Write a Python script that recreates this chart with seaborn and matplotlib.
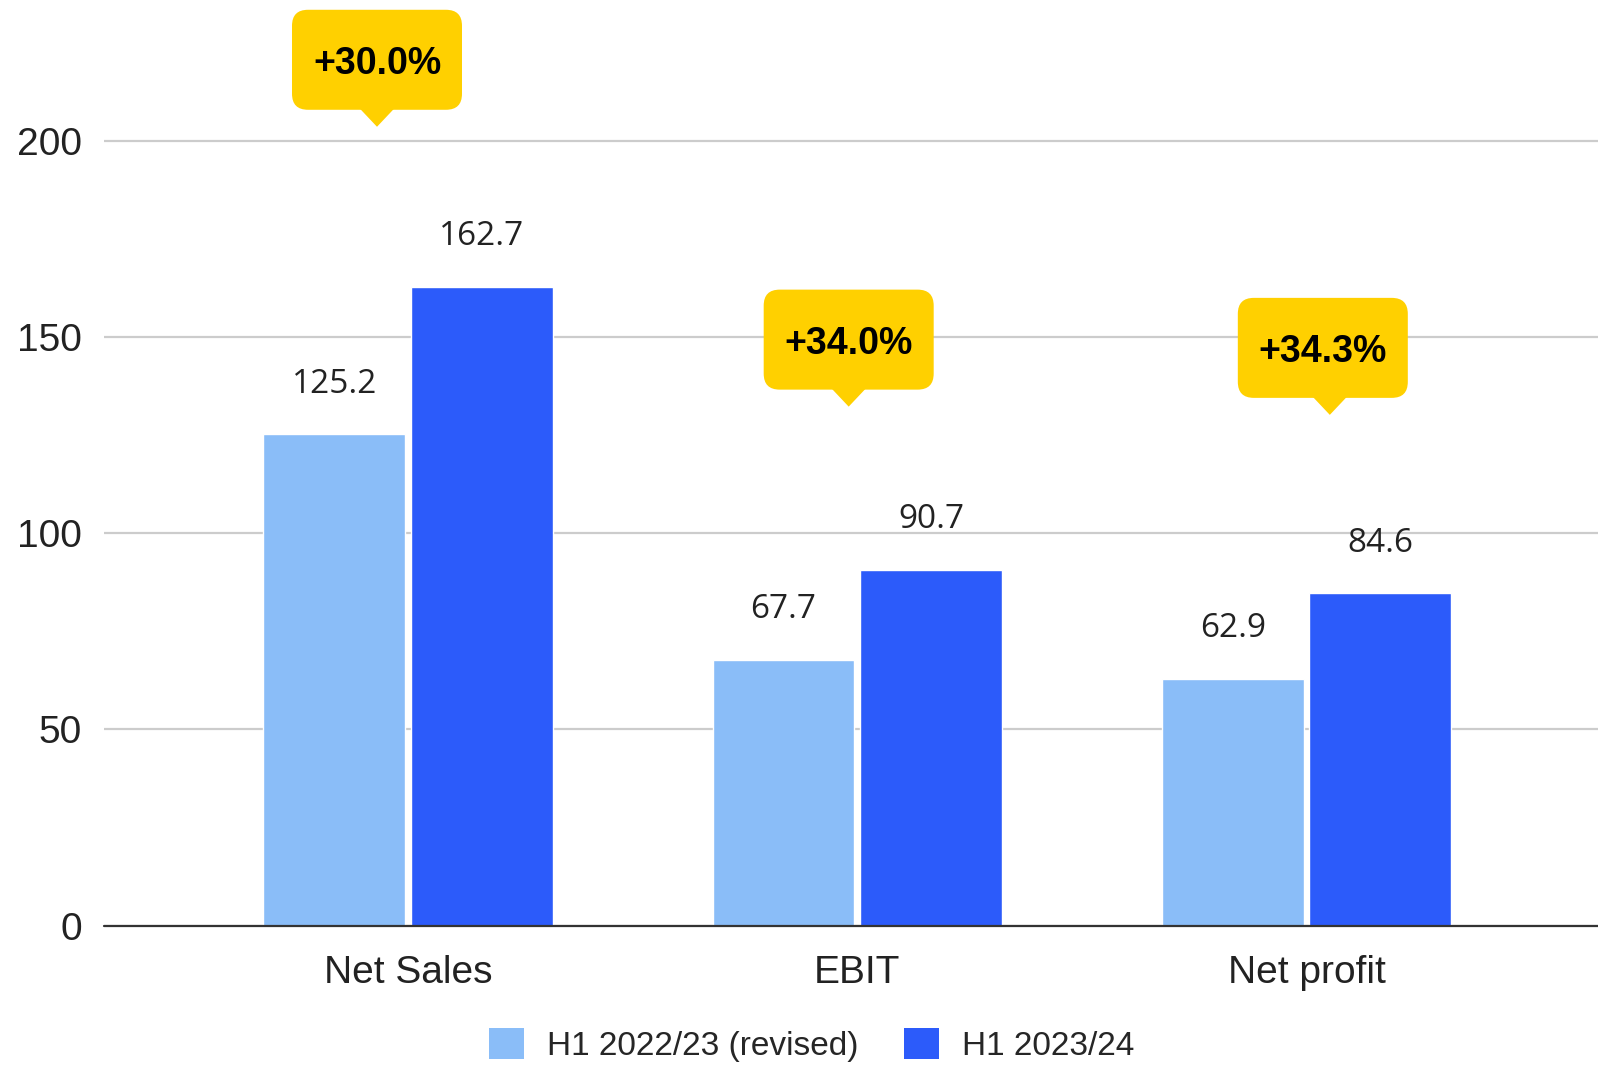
import matplotlib
matplotlib.use("Agg")
import matplotlib.pyplot as plt
import matplotlib.transforms as mtransforms
from matplotlib.patches import FancyBboxPatch, Polygon, Patch
import seaborn as sns
import pandas as pd

categories = ["Net Sales", "EBIT", "Net profit"]
series_names = ["H1 2022/23 (revised)", "H1 2023/24"]
values_prev = [125.2, 67.7, 62.9]
values_curr = [162.7, 90.7, 84.6]
growth_labels = ["+30.0%", "+34.0%", "+34.3%"]
yticks = [0, 50, 100, 150, 200]

colors = ["#8abdf8", "#2c5bfa"]
callout_color = "#ffd000"

# callout layout: (x offset from category centre, tip y in data units, box x shift in px)
callout_layout = [(-0.069, 203.5, 0), (-0.019, 132.2, 0), (0.052, 130.1, -7)]

df = pd.DataFrame({
    "category": categories * 2,
    "series": [series_names[0]] * len(categories) + [series_names[1]] * len(categories),
    "value": values_prev + values_curr,
})

sns.set_theme(style="white")
plt.rcParams["font.family"] = ["Liberation Sans", "DejaVu Sans"]

fig = plt.figure(figsize=(15.98, 10.66), dpi=100)
ax = fig.add_axes([0.065, 0.1318, 0.935, 0.8682])

sns.barplot(data=df, x="category", y="value", hue="series", hue_order=series_names,
            order=categories, palette=colors, width=0.656, gap=0.037, saturation=1,
            legend=False, errorbar=None, ax=ax, zorder=2)

ax.set_xlim(-0.677, 2.649)
ax.set_ylim(0, 235.8)
ax.set_yticks(yticks)
ax.set_xlabel("")
ax.set_ylabel("")
for s in ax.spines.values():
    s.set_visible(False)
ax.yaxis.grid(True, color="#cccccc", linewidth=1.6)
ax.set_axisbelow(True)
ax.axhline(0, color="#333333", linewidth=1.6, zorder=3, clip_on=False)

ax.tick_params(axis="y", length=0, pad=16, labelsize=28, labelcolor="#222222")
ax.tick_params(axis="x", length=0, pad=21, labelsize=28, labelcolor="#222222")

# value labels
for cont in ax.containers:
    for bar in cont:
        h = bar.get_height()
        ax.annotate(f"{h:.1f}", (bar.get_x() + bar.get_width() / 2, h),
                    xytext=(0, 36), textcoords="offset points", ha="center", va="center",
                    fontsize=24, family=["Open Sans", "DejaVu Sans"], color="#222222")

# callouts
for i, (lab, (dx, ty, bdx)) in enumerate(zip(growth_labels, callout_layout)):
    tr = mtransforms.Affine2D() + mtransforms.ScaledTranslation(i + dx, ty, ax.transData)
    box = FancyBboxPatch((-85 + bdx, 17), 170, 100,
                         boxstyle="round,pad=0,rounding_size=16",
                         fc=callout_color, ec="none", transform=tr, clip_on=False, zorder=5)
    ax.add_patch(box)
    tri = Polygon([(-17, 18), (17, 18), (0, 0)], closed=True, fc=callout_color, ec="none",
                  transform=tr, clip_on=False, zorder=5)
    ax.add_patch(tri)
    ax.text(bdx, 63, lab, transform=tr, ha="center", va="center", fontsize=27,
            fontweight="bold", color="black", zorder=6, clip_on=False)

handles = [Patch(facecolor=c, edgecolor="none", label=n) for c, n in zip(colors, series_names)]
fig.legend(handles=handles, loc="center", bbox_to_anchor=(0.508, 0.0197), ncol=2,
           frameon=False, prop={"family": "Liberation Sans", "size": 24},
           handlelength=1.05, handleheight=1.05, handletextpad=0.7, columnspacing=1.35)

fig.savefig("out.png", dpi=100, facecolor="white")
